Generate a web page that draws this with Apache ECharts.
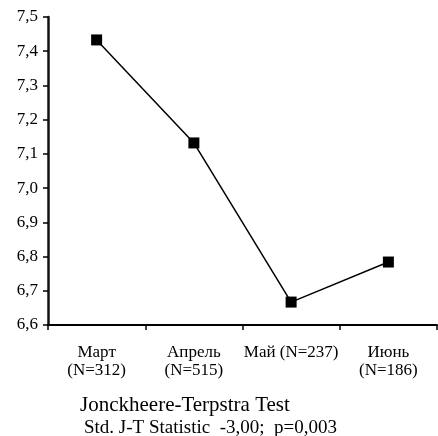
<!DOCTYPE html>
<html>
<head>
<meta charset="utf-8">
<script src="https://cdn.jsdelivr.net/npm/echarts@6/dist/echarts.min.js"></script>
<style>
  html, body { margin: 0; padding: 0; background: #fff; }
  #chart { width: 438px; height: 436px; }
</style>
</head>
<body>
<div id="chart"></div>
<script>
// Monthly groups with sample sizes
const months = ['Март\n(N=312)', 'Апрель\n(N=515)', 'Май (N=237)', 'Июнь\n(N=186)'];
const values = [7.433, 7.132, 6.667, 6.784];
const yMin = 6.6, yMax = 7.5, yStep = 0.1;
const testLines = ['Jonckheere-Terpstra Test', 'Std. J-T Statistic  -3,00;  p=0,003'];

const serif = 'Liberation Serif, Times New Roman, serif';
const ink = 'rgb(0,0,0)';
const chart = echarts.init(document.getElementById('chart'));

chart.setOption({
  animation: false,
  backgroundColor: '#fff',
  grid: { left: 48, right: 1, top: 17, bottom: 111 },
  xAxis: {
    type: 'category',
    data: months,
    boundaryGap: true,
    axisLine: { show: true, lineStyle: { color: ink, width: 2 } },
    axisTick: { show: true, length: 5, lineStyle: { color: ink, width: 1.5 } },
    axisLabel: {
      color: ink, fontFamily: serif, fontSize: 17, lineHeight: 18,
      margin: 19, verticalAlign: 'top', interval: 0
    },
    splitLine: { show: false }
  },
  yAxis: {
    type: 'value',
    min: yMin, max: yMax, interval: yStep,
    axisLine: { show: true, lineStyle: { color: '#111', width: 2.5 } },
    axisTick: { show: true, length: 5, lineStyle: { color: ink, width: 1.5 } },
    axisLabel: {
      color: ink, fontFamily: serif, fontSize: 17, margin: 10,
      formatter: v => v.toFixed(1).replace('.', ',')
    },
    splitLine: { show: false }
  },
  series: [{
    type: 'line',
    data: values,
    symbol: 'rect',
    symbolSize: 11,
    lineStyle: { color: ink, width: 1.5 },
    itemStyle: { color: ink }
  }],
  graphic: [
    { type: 'text', left: 80, top: 395,
      style: { text: testLines[0], font: '21px ' + serif, fill: ink } },
    { type: 'text', left: 84, top: 419,
      style: { text: testLines[1], font: '19px ' + serif, fill: ink } }
  ]
});
</script>
</body>
</html>
